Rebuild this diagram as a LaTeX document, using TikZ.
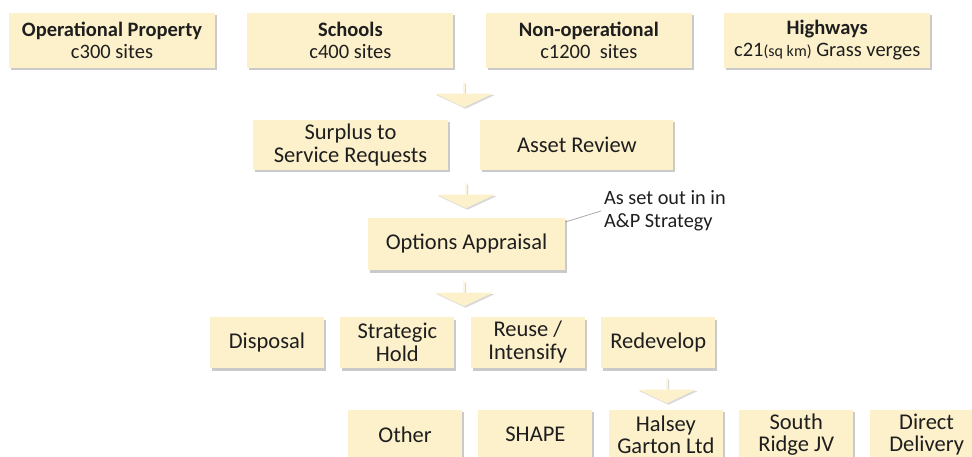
\documentclass[tikz,border=0pt]{standalone}
\usepackage{fontspec}
\setmainfont{Carlito}
\usetikzlibrary{shapes.arrows, shadows, positioning}
\definecolor{boxfill}{RGB}{253,241,204}
\definecolor{inktext}{RGB}{30,30,30}
\definecolor{linegrey}{RGB}{170,170,170}
\tikzset{every node/.style={font=\fontsize{22.5}{23}\selectfont, text=inktext}}
\tikzset{block/.style={fill=boxfill, rectangle, align=center, inner sep=0pt,
    drop shadow={shadow xshift=2pt, shadow yshift=-2.5pt, opacity=0.35, fill=black!60}}}
\tikzset{topblock/.style={block, minimum width=206pt, minimum height=55pt,
    font=\fontsize{20.5}{22}\selectfont}}
\tikzset{midblock/.style={block, minimum height=50pt}}
\tikzset{smallblock/.style={block, minimum width=114pt, minimum height=51pt}}
\tikzset{routeblock/.style={smallblock, minimum height=50pt, font=\fontsize{22.5}{22}\selectfont}}
\tikzset{downarrow/.style={shape=single arrow, rotate=-90, anchor=tail, fill=boxfill,
    inner sep=0pt, minimum height=25pt, minimum width=58pt,
    single arrow head extend=9pt, single arrow tip angle=130,
    drop shadow={shadow xshift=1.5pt, shadow yshift=-1.5pt, opacity=0.25, fill=black!60}}}

\begin{document}
\begin{tikzpicture}[x=1pt,y=-1pt]
    \useasboundingbox (0,0) rectangle (972,457);
    \clip (0,0) rectangle (972,457);

    % property groups
    \node[topblock] (oper) at (112,40.5) {\textbf{Operational Property}\\c300 sites};
    \node[topblock, right=32pt of oper] (schools) {\textbf{Schools}\\c400 sites};
    \node[topblock, right=32pt of schools] (nonop) {\textbf{Non-operational}\\c1200\ \ sites};
    \node[topblock, right=32pt of nonop] (highways) {\textbf{Highways}\\c21{\fontsize{16}{22}\selectfont(sq km)} Grass verges};

    \node[downarrow] (arrA) at (464,82) {};

    % review stage
    \node[midblock, minimum width=195pt] (surplus) at (350.5,145) {Surplus to\\Service Requests};
    \node[midblock, minimum width=193pt, right=32pt of surplus] (review) {Asset Review};

    \node[downarrow] (arrB) at (466,183) {};

    \node[midblock, minimum width=197pt, minimum height=52pt] (opts) at (466.5,244) {Options Appraisal};
    \node[anchor=west, align=left, inner sep=3pt, font=\fontsize{20.3}{23}\selectfont] (note) at (601,211)
        {As set out in in\\A\&P Strategy};
    \draw[linegrey, line width=0.8pt] ([yshift=22pt]opts.east) -- (note.west);

    \node[downarrow] (arrC) at (464,281) {};

    % options
    \node[smallblock] (disposal) at (267,342.5) {Disposal};
    \node[smallblock, right=16pt of disposal] (hold) {Strategic\\Hold};
    \node[smallblock, right=16pt of hold] (reuse) {Reuse /\\Intensify};
    \node[smallblock, right=16pt of reuse] (redev) {Redevelop};

    \node[downarrow] (arrD) at (667,378) {};

    % delivery routes
    \node[routeblock] (other) at (405,434.5) {Other};
    \node[routeblock, right=16pt of other] (shape) {SHAPE};
    \node[routeblock, right=16pt of shape] (halsey) {Halsey\\Garton Ltd};
    \node[routeblock, right=16pt of halsey] (south) {South\\Ridge JV};
    \node[routeblock, right=16pt of south] (direct) {Direct\\Delivery};
\end{tikzpicture}
\end{document}
